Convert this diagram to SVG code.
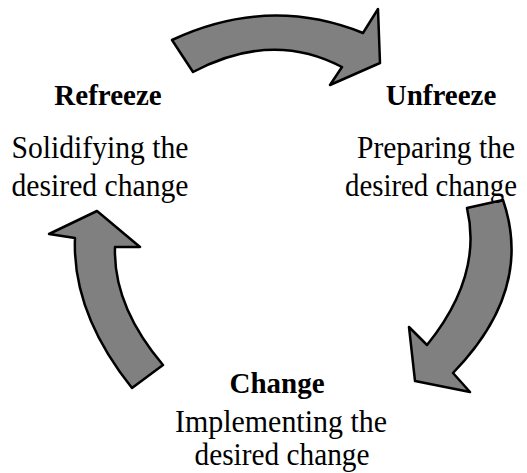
<svg xmlns="http://www.w3.org/2000/svg" width="527" height="473" viewBox="0 0 527 473">
<style>
.t{font-family:"Liberation Serif","Times New Roman",serif;font-size:31px;fill:#000;text-anchor:middle}
.b{font-family:"Liberation Serif","Times New Roman",serif;font-size:29px;font-weight:bold;fill:#000;text-anchor:middle}
.arrow{fill:#808080;stroke:#000;stroke-width:2.5;stroke-linejoin:round}
</style>
<rect width="527" height="473" fill="#fff"/>
<g id="connectors">
<path class="arrow" d="M172,40 Q268,-5 363,33 L378,9 L380,63 L330,85 L342,67 Q272,30 193,72 Z"/>
<path class="arrow" d="M503,200 Q534,290 453,373 L470,392 L415,381 L409,327 L427,345 Q483,276 467,208 Z"/>
<path class="arrow" d="M163,365 L132,388 Q72,313 75,238 L49,234 L97,211 L140,247 L115,247 Q113,306 163,365 Z"/>
</g>
<g id="refreeze">
<text class="b" x="108" y="105">Refreeze</text>
<text class="t" x="100" y="158" textLength="177" lengthAdjust="spacingAndGlyphs">Solidifying the</text>
<text class="t" x="100" y="196" textLength="177" lengthAdjust="spacingAndGlyphs">desired change</text>
</g>
<g id="unfreeze">
<text class="b" x="441" y="105">Unfreeze</text>
<text class="t" x="436" y="158" textLength="158" lengthAdjust="spacingAndGlyphs">Preparing the</text>
<text class="t" x="431" y="196" textLength="172" lengthAdjust="spacingAndGlyphs">desired change</text>
</g>
<g id="change">
<text class="b" x="277" y="393">Change</text>
<text class="t" x="281" y="432" textLength="212" lengthAdjust="spacingAndGlyphs">Implementing the</text>
<text class="t" x="282" y="465" textLength="175" lengthAdjust="spacingAndGlyphs">desired change</text>
</g>
</svg>
